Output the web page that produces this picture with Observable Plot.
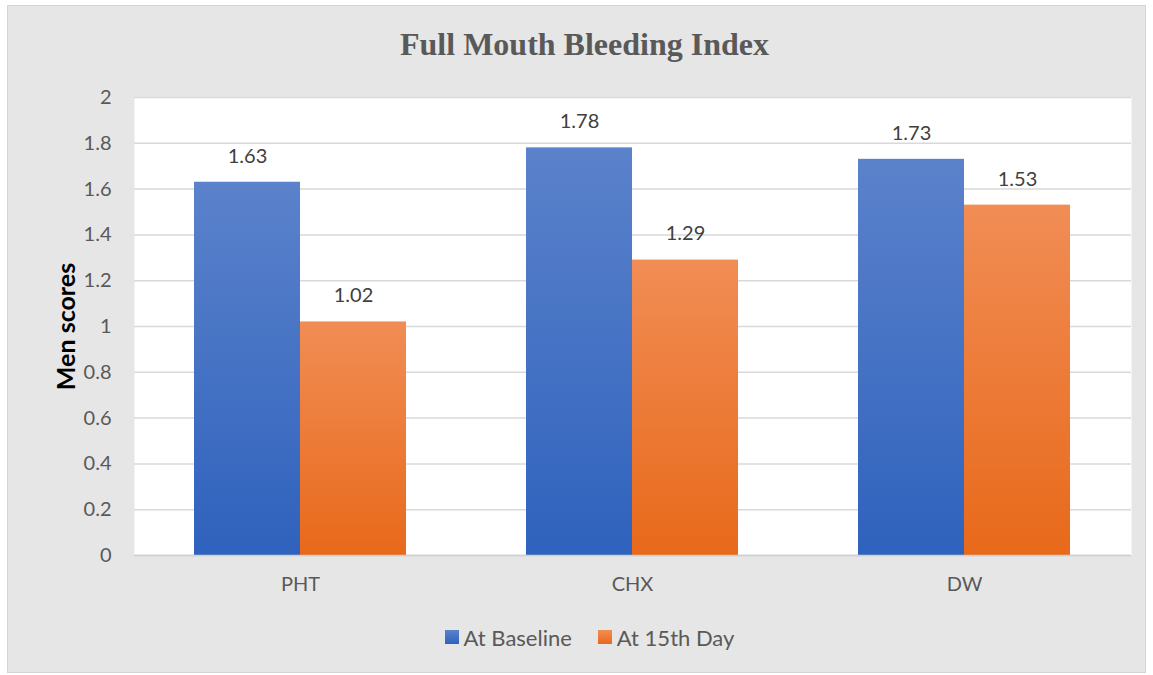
<!DOCTYPE html>
<html>
<head>
<meta charset="utf-8">
<script src="https://cdn.jsdelivr.net/npm/d3@7"></script>
<script src="https://cdn.jsdelivr.net/npm/@observablehq/plot@0.6"></script>
<style>
  html, body { margin: 0; padding: 0; background: #ffffff; }
  #frame {
    position: absolute; left: 7px; top: 5px; width: 1139px; height: 668px;
    background: #e6e6e6; border: 1px solid #d4d4d4; box-sizing: border-box;
  }
  #title {
    position: absolute; left: 16px; right: 0; top: 20px; text-align: center;
    font-family: "Liberation Serif", "Times New Roman", serif; font-weight: bold;
    font-size: 32px; line-height: 36px; color: #595959;
  }
  #chart { position: absolute; left: 0px; top: 75px; }
  #legend {
    position: absolute; left: 26px; right: 0; top: 616px; text-align: center;
    font-family: Lato, "Open Sans", sans-serif; font-size: 22px; color: #595959;
  }
  .item { display: inline-flex; align-items: center; margin: 0 13px; }
  .sw { display: inline-block; width: 14px; height: 14px; margin-right: 5px; }
</style>
</head>
<body>
<div id="frame">
  <div id="title">Full Mouth Bleeding Index</div>
  <div id="chart"></div>
  <div id="legend"></div>
</div>
<script>
const categories = ["PHT", "CHX", "DW"];
const seriesNames = ["At Baseline", "At 15th Day"];
const baselineValues = [1.63, 1.78, 1.73];
const day15Values = [1.02, 1.29, 1.53];
const yTicks = [0, 0.2, 0.4, 0.6, 0.8, 1, 1.2, 1.4, 1.6, 1.8, 2];
const yLabel = "Men scores";

const rows = categories.map((c, i) => ({cat: c, base: baselineValues[i], d15: day15Values[i]}));

const sans = "Lato, 'Open Sans', sans-serif";
const plot = Plot.plot({
  width: 1137,
  height: 530,
  marginTop: 16,
  marginBottom: 56,
  marginLeft: 126,
  marginRight: 14,
  style: {background: "transparent", fontFamily: sans, fontSize: "20px", color: "#595959", overflow: "visible"},
  x: {domain: categories, paddingInner: 0.3614, paddingOuter: 0.1807, label: null},
  y: {domain: [0, 2], ticks: yTicks, label: null},
  marks: [
    Plot.frame({fill: "#ffffff", stroke: null}),
    Plot.gridY(yTicks, {stroke: "#d9d9d9", strokeOpacity: 1, strokeWidth: 1.5}),
    Plot.axisY(yTicks, {tickSize: 0, tickPadding: 23, tickFormat: d => String(+d.toFixed(1)), fill: "#595959", fontSize: 20}),
    Plot.axisX({tickSize: 0, tickPadding: 21, fill: "#595959", fontSize: 20}),
    Plot.barY(rows, {x: "cat", y: "base", insetRight: 106, fill: "url(#gBlue)", style: {filter: "drop-shadow(2px 0px 2px rgba(0,0,0,0.22))"}}),
    Plot.barY(rows, {x: "cat", y: "d15", insetLeft: 106, fill: "url(#gOrange)", style: {filter: "drop-shadow(2px 0px 2px rgba(0,0,0,0.22))"}}),
    Plot.ruleY([0], {stroke: "#cfcfcf", strokeWidth: 1.5}),
    Plot.text(rows, {x: "cat", y: "base", text: d => d.base.toFixed(2), dx: -53, dy: -26, fill: "#404040", fontSize: 20}),
    Plot.text(rows, {x: "cat", y: "d15", text: d => d.d15.toFixed(2), dx: 53, dy: -26, fill: "#404040", fontSize: 20}),
    Plot.text([yLabel], {frameAnchor: "left", dx: -68, rotate: -90, textAnchor: "middle", text: d => d, fill: "#000000", fontWeight: "bold", fontSize: 25})
  ]
});

const ns = "http://www.w3.org/2000/svg";
const defs = document.createElementNS(ns, "defs");
function grad(id, top, bottom) {
  const g = document.createElementNS(ns, "linearGradient");
  g.setAttribute("id", id);
  g.setAttribute("x1", "0"); g.setAttribute("y1", "0");
  g.setAttribute("x2", "0"); g.setAttribute("y2", "1");
  [[0, top], [1, bottom]].forEach(([o, c]) => {
    const s = document.createElementNS(ns, "stop");
    s.setAttribute("offset", o);
    s.setAttribute("stop-color", c);
    g.appendChild(s);
  });
  defs.appendChild(g);
}
grad("gBlue", "#5b82cb", "#2f62bd");
grad("gOrange", "#f18d55", "#e8691a");
plot.insertBefore(defs, plot.firstChild);
document.getElementById("chart").appendChild(plot);

const legend = document.getElementById("legend");
const swatches = ["linear-gradient(#5b82cb, #2f62bd)", "linear-gradient(#f18d55, #e8691a)"];
seriesNames.forEach((n, i) => {
  const it = document.createElement("span");
  it.className = "item";
  it.innerHTML = `<span class="sw" style="background:${swatches[i]}"></span>${n}`;
  legend.appendChild(it);
});
</script>
</body>
</html>
